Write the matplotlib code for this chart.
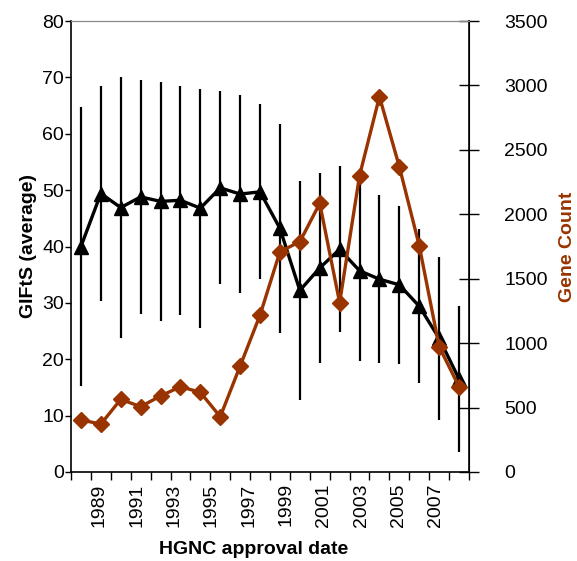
import matplotlib
matplotlib.use('Agg')
import matplotlib.pyplot as plt
import numpy as np

plt.rcParams['font.family'] = ['Liberation Sans', 'DejaVu Sans']

# approval years (one point per year)
years = list(range(1988, 2008))
# average GIFtS and its spread
gifts_mean = [40.0, 49.4, 46.9, 48.8, 48.0, 48.2, 46.8, 50.4, 49.3, 49.7,
              43.2, 32.2, 36.2, 39.5, 35.7, 34.2, 33.2, 29.4, 23.7, 16.5]
gifts_err = [24.8, 19.0, 23.1, 20.7, 21.2, 20.3, 21.2, 17.1, 17.5, 15.5,
             18.5, 19.5, 16.8, 14.7, 16.0, 14.9, 14.0, 13.7, 14.5, 13.0]
# number of genes approved that year
gene_count = [404, 372, 564, 507, 590, 662, 618, 429, 823, 1218,
              1710, 1787, 2085, 1314, 2300, 2913, 2369, 1756, 972, 662]
label_years = [1989, 1991, 1993, 1995, 1997, 1999, 2001, 2003, 2005, 2007]

brown = '#993300'

fig = plt.figure(figsize=(5.77, 5.61), dpi=100)
ax = fig.add_axes([71 / 577, 1 - 472 / 561, 398 / 577, 451 / 561])
ax2 = ax.twinx()

x = np.arange(len(years))

ax.errorbar(x, gifts_mean, yerr=gifts_err, fmt='none', ecolor='black',
            elinewidth=1.6, capsize=0, zorder=2)
ax.plot(x, gifts_mean, color='black', lw=2.4, marker='^', markersize=10,
        zorder=3)
ax2.plot(x, gene_count, color=brown, lw=2.4, marker='D', markersize=8.5,
         zorder=3)

ax.set_xlim(-0.5, len(years) - 0.5)
ax.set_ylim(0, 80)
ax2.set_ylim(0, 3500)
ax.set_yticks(np.arange(0, 81, 10))
ax2.set_yticks(np.arange(0, 3501, 500))

# tick marks at the bin edges, labels placed as in the original figure
ax.set_xticks(np.arange(-0.5, len(years), 1.0))
ax.set_xticklabels([])
ax.tick_params(axis='x', direction='out', length=6, width=1)
for yr in label_years:
    pos = 0.92 + (yr - 1989) * 0.94
    ax.text(pos, -0.025, str(yr), rotation=90, ha='center', va='top',
            fontsize=14, transform=ax.get_xaxis_transform())

ax.tick_params(axis='y', direction='out', length=4, width=1, labelsize=14,
               pad=1)
ax2.tick_params(axis='y', direction='inout', length=15, width=1,
                labelsize=14, pad=18)
for lab in ax2.get_yticklabels():
    lab.set_horizontalalignment('left')

ax.spines['top'].set_color('#888888')
ax2.spines['top'].set_color('#888888')
ax2.spines['left'].set_visible(False)
ax2.spines['bottom'].set_visible(False)
for s in ['left', 'bottom']:
    ax.spines[s].set_linewidth(1.2)
ax2.spines['right'].set_linewidth(1.2)

ax.set_ylabel('GIFtS (average)', fontsize=14, fontweight='bold', labelpad=4)
ax2.set_ylabel('Gene Count', fontsize=14, fontweight='bold', color=brown,
               labelpad=8)
fig.text(254 / 577, 1 - 549 / 561, 'HGNC approval date',
         ha='center', va='center', fontsize=14, fontweight='bold')

fig.savefig('out.png', dpi=100)
